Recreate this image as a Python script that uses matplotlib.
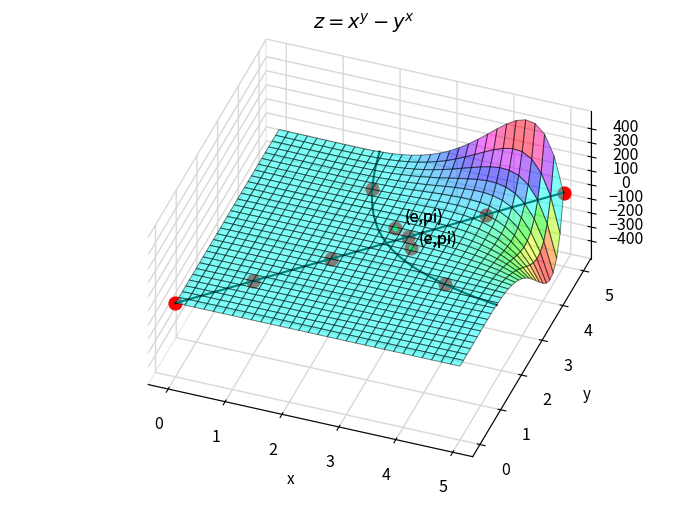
import numpy as np
import matplotlib
matplotlib.use('Agg')
import matplotlib.pyplot as plt
from mpl_toolkits.mplot3d import Axes3D

plt.rcParams['font.family'] = ['Noto Sans CJK SC', 'DejaVu Sans']
plt.rcParams['axes.unicode_minus'] = True

# z above the diagonal, one row per y step (1/6), from the first x past the diagonal
z_rows = [
    [1, 1, 1, 1, 1, 1, 1, 1, 1, 1, 1, 1, 1, 1, 1, 1, 1, 1, 1, 1, 1, 1, 1, 1, 1, 1, 1, 1, 1, 1],
    [0, 0, 1, 1, 1, 1, 1, 1, 1, 1, 1, 1, 1, 1, 1, 1, 1, 1, 1, 1, 1, 1, 1, 1, 1, 1, 1, 1, 1],
    [0, 0, 1, 1, 1, 1, 1, 1, 1, 1, 1, 1, 1, 1, 1, 1, 1, 1, 1, 2, 2, 2, 2, 2, 2, 2, 2, 2],
    [0, 0, 0, 1, 1, 1, 1, 1, 1, 1, 1, 1, 1, 2, 2, 2, 2, 2, 2, 2, 2, 2, 2, 2, 2, 2, 2],
    [0, 0, 0, 1, 1, 1, 1, 1, 1, 1, 1, 2, 2, 2, 2, 2, 2, 2, 2, 2, 2, 2, 3, 3, 3, 3],
    [0, 0, 0, 1, 1, 1, 1, 1, 1, 2, 2, 2, 2, 2, 2, 2, 2, 3, 3, 3, 3, 3, 3, 3, 3],
    [0, 0, 0, 1, 1, 1, 1, 1, 2, 2, 2, 2, 2, 2, 2, 3, 3, 3, 3, 3, 4, 4, 4, 4],
    [0, 0, 1, 1, 1, 1, 1, 1, 2, 2, 2, 2, 2, 3, 3, 3, 3, 3, 4, 4, 4, 4, 4],
    [0, 0, 1, 1, 1, 1, 1, 2, 2, 2, 2, 2, 3, 3, 3, 3, 3, 4, 4, 4, 4, 4],
    [0, 0, 1, 1, 1, 1, 1, 2, 2, 2, 2, 2, 3, 3, 3, 3, 3, 3, 3, 4, 4],
    [0, 0, 1, 1, 1, 1, 1, 2, 2, 2, 2, 2, 2, 2, 2, 2, 2, 2, 2, 2],
    [0, 0, 1, 1, 1, 1, 1, 1, 2, 2, 2, 2, 1, 1, 1, 0, 0, -1, -2],
    [0, 0, 1, 1, 1, 1, 1, 1, 1, 1, 0, 0, -1, -1, -2, -4, -5, -7],
    [0, 0, 1, 1, 1, 1, 0, 0, 0, -1, -2, -3, -5, -6, -9, -12, -15],
    [0, 0, 0, 0, 0, 0, -1, -2, -3, -4, -6, -9, -12, -16, -21, -26],
    [0, 0, 0, 0, -1, -2, -3, -5, -7, -10, -14, -19, -25, -32, -42],
    [0, 0, -1, -2, -3, -4, -7, -10, -15, -20, -27, -36, -48, -62],
    [0, -1, -2, -3, -6, -9, -14, -20, -27, -38, -50, -67, -87],
    [-1, -2, -4, -7, -11, -17, -25, -35, -49, -67, -89, -118],
    [-1, -4, -7, -13, -20, -30, -44, -62, -85, -116, -155],
    [-3, -7, -13, -22, -34, -52, -75, -106, -146, -198],
    [-4, -11, -22, -37, -58, -87, -126, -178, -246],
    [-8, -19, -37, -62, -98, -146, -211, -297],
    [-13, -33, -62, -104, -162, -242, -350],
    [-21, -54, -102, -171, -267, -399],
    [-35, -88, -167, -280, -439],
    [-57, -145, -274, -459],
    [-93, -236, -448],
    [-152, -386],
    [-248],
]

curve_x = [1.765, 1.842, 1.913, 2.0, 2.109, 2.25, 2.441, 2.594, 2.718, 2.853, 3.052, 3.375, 3.691, 4.0, 4.305, 4.605, 5.0]
curve_y = [5.0, 4.605, 4.305, 4.0, 3.691, 3.375, 3.052, 2.853, 2.718, 2.594, 2.441, 2.25, 2.109, 2.0, 1.913, 1.842, 1.765]
diag_x = [0, 5]
diag_y = [0, 5]

red_x = [0, 1, 2, 3, 4, 5, 2, 4, 2.718, 3.142]
red_y = [0, 1, 2, 3, 4, 5, 4, 2, 3.142, 2.718]
green_x = [2.718, 3.142]
green_y = [3.142, 2.718]

z_ticks = [-400, -300, -200, -100, 0, 100, 200, 300, 400]

n = len(z_rows) + 1
Z = np.zeros((n, n))
for i, row in enumerate(z_rows):
    Z[i, i + 1:] = row
Z = Z - Z.T
grid = np.linspace(0, 5, n)
X, Y = np.meshgrid(grid, grid)

fig = plt.figure(figsize=(7, 5.25), dpi=100)
ax = fig.add_subplot(111, projection='3d', computed_zorder=False)
ax.set_position([0.1299, 0.1325, 0.775, 0.77])
ax.set_proj_type('ortho')
ax.view_init(elev=55, azim=-70)
# old style 3d axes: unit cube stretched to fill the whole axes box
ax.set_box_aspect((1, 1, 1), zoom=1.07)
ax.apply_aspect = lambda position=None: None

# surface goes on top, that is why the marks under it look grey
ax.scatter(red_x, red_y, 0, c='red', s=85, depthshade=False, zorder=1)
ax.scatter(green_x, green_y, 0, c='lime', s=8, depthshade=False, zorder=2)
ax.plot(diag_x, diag_y, 0, color='k', lw=1.5, zorder=2)
ax.plot(curve_x, curve_y, 0, color='k', lw=1.5, zorder=2)
ax.plot_surface(X, Y, Z, rstride=1, cstride=1, cmap='hsv', alpha=0.5,
                edgecolor='k', linewidth=0.7, zorder=3)

for k in range(2):
    ax.text(2.82, 3.29, 20, '(e,pi)', fontsize=11.5, zorder=5)
    ax.text(3.25, 2.81, 20, '(e,pi)', fontsize=11.5, zorder=5)

ax.set_xlim(-0.35, 5.35)
ax.set_ylim(-0.35, 5.35)
ax.set_xlabel('x', fontsize=11, labelpad=9)
ax.set_ylabel('y', fontsize=11, labelpad=9)
ax.set_zticks(z_ticks)
ax.tick_params(labelsize=11.5, pad=6)
ax.set_title('$z = x^y - y^x$', fontsize=14, pad=16, x=0.503)

for a in (ax.xaxis, ax.yaxis, ax.zaxis):
    a.set_pane_color((1, 1, 1, 1))
    a.pane.set_edgecolor('#d8d8d8')
    a.line.set_color('k')
    a._axinfo['grid']['color'] = '#d8d8d8'
    a._axinfo['grid']['linewidth'] = 1.0

fig.savefig('out.png', dpi=100)
